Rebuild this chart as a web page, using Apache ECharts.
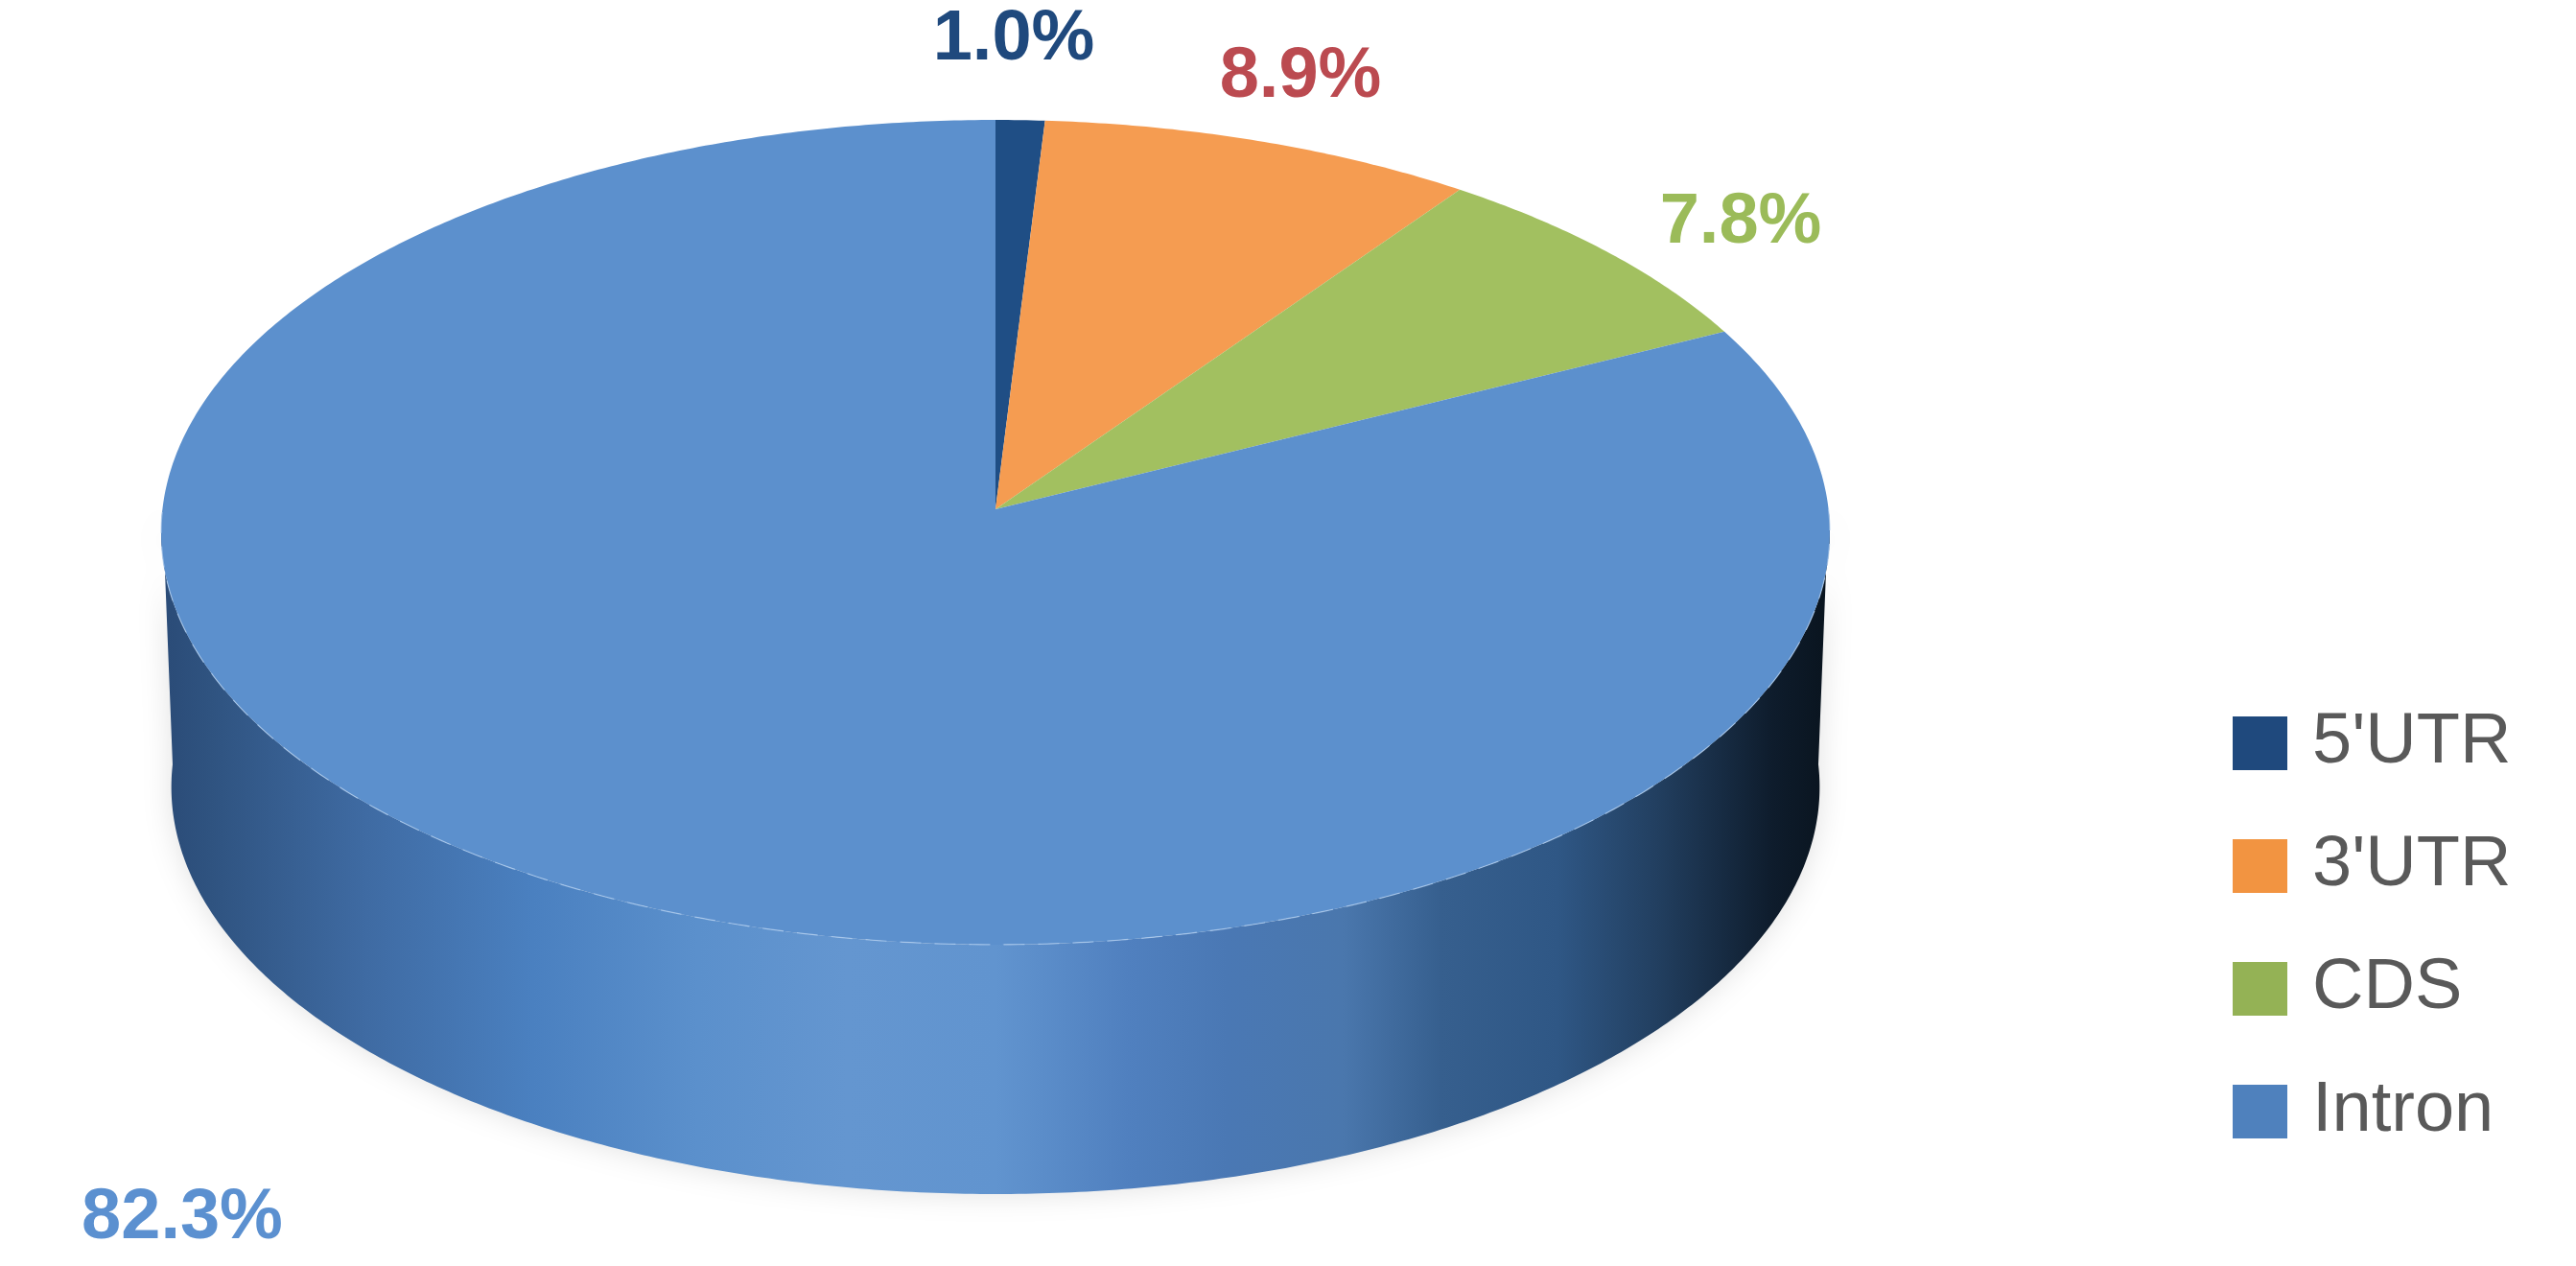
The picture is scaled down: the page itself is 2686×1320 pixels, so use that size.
<!DOCTYPE html>
<html>
<head>
<meta charset="utf-8">
<title>3D pie</title>
<style>
  html, body { margin: 0; padding: 0; background: #fff; }
  #chart { width: 2686px; height: 1320px; }
</style>
<script src="https://cdn.jsdelivr.net/npm/echarts@6/dist/echarts.min.js"></script>
</head>
<body>
<div id="chart"></div>
<script>
var categories = ["5'UTR", "3'UTR", 'CDS', 'Intron'];
var values = [1.0, 8.9, 7.8, 82.3];

var faceColors = ['#1f4e85', '#f59c51', '#a2c060', '#5c90cd'];
var legendColors = ['#1f497d', '#f29441', '#94b255', '#4f81bd'];
var labelColors = ['#1f497d', '#bb4a50', '#9bbb59', '#5b90d0'];
// centre of each percentage label, in page pixels
var labelSpots = [[1057, 42], [1356, 81], [1815, 233], [190, 1271]];

var total = values.reduce(function (a, b) { return a + b; }, 0);

// the disc is a circle seen in perspective: k makes the far side shorter
var k = 0.0558;
var topDisc = { x: 1038, y: 531, rx: 868.6, ry: 428.6 };
var bottomDisc = { x: 1038, y: 797, rx: 858, ry: 423 };

function project(disc, deg) {
  var t = deg * Math.PI / 180;
  var u = Math.sin(t), v = Math.cos(t);
  var w = 1 + k * v;
  return [disc.x + disc.rx * u / w, disc.y - disc.ry * v / w];
}

function rim(disc, from, to) {
  var pts = [];
  var steps = Math.max(2, Math.ceil(Math.abs(to - from) * 2));
  for (var i = 0; i <= steps; i++) {
    pts.push(project(disc, from + (to - from) * i / steps));
  }
  return pts;
}

var sideFill = new echarts.graphic.LinearGradient(176, 0, 1900, 0, [
  { offset: 0, color: '#2b4c78' },
  { offset: 0.025, color: '#2f5380' },
  { offset: 0.12, color: '#3f6ba3' },
  { offset: 0.22, color: '#4a80c0' },
  { offset: 0.32, color: '#5b90cc' },
  { offset: 0.41, color: '#6496d0' },
  { offset: 0.5, color: '#6194cf' },
  { offset: 0.58, color: '#5080bf' },
  { offset: 0.64, color: '#4a78b4' },
  { offset: 0.71, color: '#4a77ad' },
  { offset: 0.77, color: '#365f8e' },
  { offset: 0.84, color: '#2f5785' },
  { offset: 0.9, color: '#223f60' },
  { offset: 0.97, color: '#0e1c2c' },
  { offset: 1, color: '#0a1520' }
], true);

function sliceItem(index) {
  return function (params, api) {
    var before = values.slice(0, index).reduce(function (a, b) { return a + b; }, 0);
    var start = before / total * 360;
    var end = (before + api.value(0)) / total * 360;
    var children = [];

    // wall of the cake: only the part of the slice facing the viewer
    var wallFrom = Math.max(start, 90);
    var wallTo = Math.min(end, 270);
    if (wallTo > wallFrom) {
      var front = rim(topDisc, wallFrom, wallTo);
      var back = rim(bottomDisc, wallFrom, wallTo).reverse();
      children.push({
        type: 'polygon',
        shape: { points: back.concat(front) },
        style: {
          fill: sideFill,
          shadowBlur: 30,
          shadowColor: 'rgba(0,0,0,0.12)'
        }
      });
    }

    children.push({
      type: 'polygon',
      shape: { points: [[topDisc.x, topDisc.y]].concat(rim(topDisc, start, end)) },
      style: { fill: faceColors[index] }
    });

    // broken pale highlight along the front edge of the top
    if (wallTo > wallFrom) {
      children.push({
        type: 'polyline',
        shape: { points: rim(topDisc, wallFrom, wallTo) },
        style: {
          fill: null,
          stroke: '#b4d0f0',
          lineWidth: 1.2,
          lineDash: [22, 14],
          opacity: 0.75
        }
      });
    }

    children.push({
      type: 'text',
      x: labelSpots[index][0],
      y: labelSpots[index][1],
      style: {
        text: api.value(0).toFixed(1) + '%',
        fill: labelColors[index],
        font: 'bold 74px "Liberation Sans", Arial, sans-serif',
        align: 'center',
        verticalAlign: 'middle'
      }
    });

    return { type: 'group', children: children };
  };
}

var chart = echarts.init(document.getElementById('chart'));
chart.setOption({
  animation: false,
  backgroundColor: '#ffffff',
  legend: {
    orient: 'vertical',
    left: 2328,
    top: 738,
    padding: 0,
    itemWidth: 57,
    itemHeight: 56,
    itemGap: 54,
    icon: 'rect',
    selectedMode: false,
    data: categories.map(function (name, i) {
      return { name: name, itemStyle: { color: legendColors[i] } };
    }),
    textStyle: {
      color: '#595959',
      fontSize: 74,
      lineHeight: 56,
      fontFamily: '"Liberation Sans", Arial, sans-serif',
      padding: [0, 0, 0, 21]
    }
  },
  series: categories.map(function (name, i) {
    return {
      type: 'custom',
      name: name,
      coordinateSystem: 'none',
      itemStyle: { color: legendColors[i] },
      renderItem: sliceItem(i),
      data: [[values[i]]]
    };
  })
});
</script>
</body>
</html>
